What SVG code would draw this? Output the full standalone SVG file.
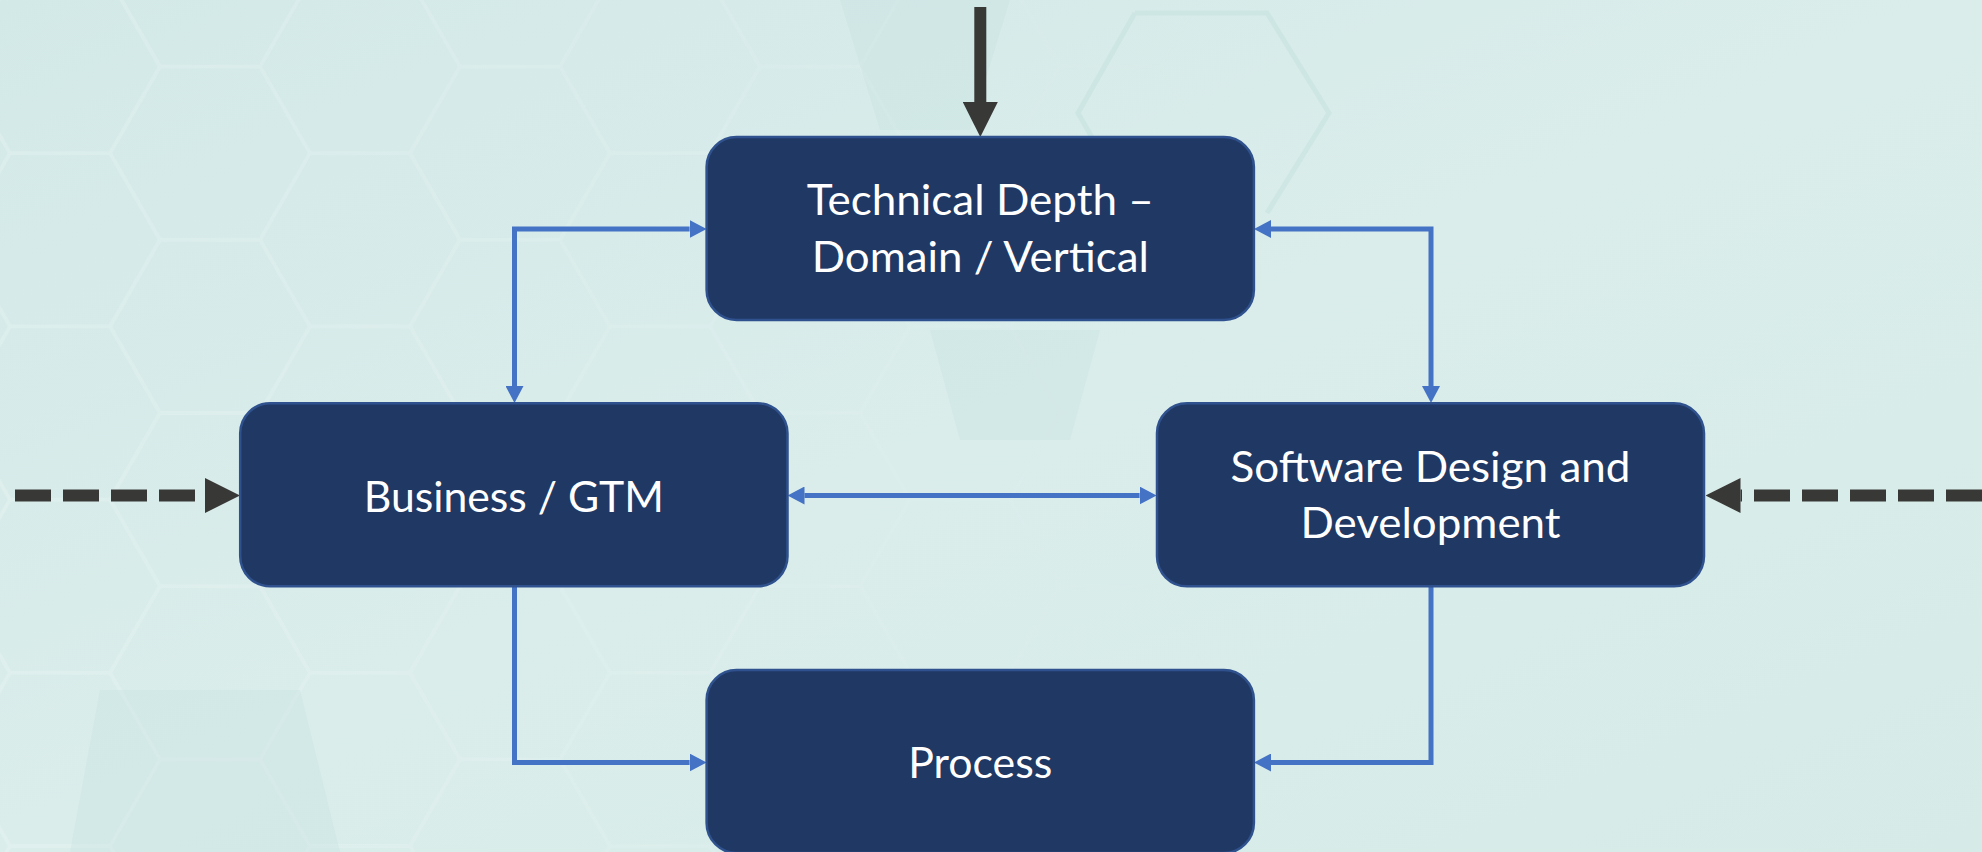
<svg xmlns="http://www.w3.org/2000/svg" width="1982" height="852" viewBox="0 0 1982 852">
  <style>
    .node rect { fill: #203864; stroke: #2F528F; stroke-width: 2.5; }
    .node text { fill: #FFFFFF; font-family: Lato, "Open Sans", "Liberation Sans", sans-serif; font-size: 42px; text-anchor: middle; }
    .blue { fill: none; stroke: #4472C4; stroke-width: 5; }
    .black { fill: none; stroke: #383836; stroke-width: 12; }
    .dashed { stroke-dasharray: 36 12; }
    .hexline { fill: none; stroke: #EAF5F3; stroke-width: 4; }
    .mol { fill: none; stroke: #C4E2DE; stroke-width: 5; opacity: 0.55; }
  </style>
  <defs>
    <linearGradient id="bg" x1="0" y1="0" x2="1" y2="1">
      <stop offset="0" stop-color="#D3E9E8"/>
      <stop offset="0.5" stop-color="#DAEDEB"/>
      <stop offset="1" stop-color="#D6EBE8"/>
    </linearGradient>
    <pattern id="hex" width="300" height="173.2" patternUnits="userSpaceOnUse" x="-40" y="-20">
      <path class="hexline" d="M0,86.6 L50,0 L150,0 L200,86.6 L150,173.2 L50,173.2 Z M200,86.6 H300"/>
    </pattern>
    <linearGradient id="fade" x1="0" y1="0" x2="1" y2="0">
      <stop offset="0" stop-color="#fff" stop-opacity="0.35"/>
      <stop offset="0.4" stop-color="#fff" stop-opacity="0.18"/>
      <stop offset="0.65" stop-color="#fff" stop-opacity="0"/>
    </linearGradient>
    <mask id="fadeMask">
      <rect width="1982" height="852" fill="url(#fade)"/>
    </mask>
    <marker id="blueHead" viewBox="0 0 17 18" refX="0" refY="9" markerWidth="17" markerHeight="18" markerUnits="userSpaceOnUse" orient="auto-start-reverse">
      <path d="M0,0 L17,9 L0,18 Z" fill="#4472C4"/>
    </marker>
    <marker id="blackHead" viewBox="0 0 35 35" refX="0" refY="17.5" markerWidth="35" markerHeight="35" markerUnits="userSpaceOnUse" orient="auto-start-reverse">
      <path d="M0,0 L35,17.5 L0,35 Z" fill="#383836"/>
    </marker>
  </defs>

  <!-- background -->
  <rect width="1982" height="852" fill="url(#bg)"/>
  <rect width="1982" height="852" fill="url(#hex)" mask="url(#fadeMask)"/>
  <g opacity="0.22" fill="#BCDADC">
    <path d="M840,0 L1010,0 L970,130 L880,130 Z"/>
    <path d="M100,690 L300,690 L340,852 L70,852 Z"/>
    <path d="M930,330 L1100,330 L1070,440 L960,440 Z"/>
  </g>
  <g class="mol">
    <path d="M1135,13 L1267,13 L1329,113 L1267,213 M1135,13 L1078,113 L1135,213"/>
  </g>

  <!-- connectors -->
  <g id="connectors">
    <path class="blue" d="M514.5,386 V229 H689.6" marker-start="url(#blueHead)" marker-end="url(#blueHead)"/>
    <path class="blue" d="M1271,229 H1431 V386" marker-start="url(#blueHead)" marker-end="url(#blueHead)"/>
    <path class="blue" d="M804.5,495.5 H1139.6" marker-start="url(#blueHead)" marker-end="url(#blueHead)"/>
    <path class="blue" d="M514.5,586.5 V762.5 H689.6" marker-end="url(#blueHead)"/>
    <path class="blue" d="M1431,586.5 V762.5 H1271" marker-end="url(#blueHead)"/>
    <path class="black" d="M980.3,7 V102" stroke-width="11.5" marker-end="url(#blackHead)"/>
    <path class="black dashed" d="M15,495.5 H205" marker-end="url(#blackHead)"/>
    <path class="black dashed" d="M1982,495.5 H1740.5" marker-end="url(#blackHead)"/>
  </g>

  <!-- nodes -->
  <g id="node-technical" class="node">
    <rect x="706.6" y="137" width="547.3" height="183" rx="30" ry="30"/>
    <text x="980.3" y="215" textLength="347" lengthAdjust="spacingAndGlyphs">Technical Depth –</text>
    <text x="980.3" y="272" textLength="337" lengthAdjust="spacingAndGlyphs">Domain / Vertical</text>
  </g>
  <g id="node-business" class="node">
    <rect x="240.2" y="403.3" width="547.3" height="183" rx="30" ry="30"/>
    <text x="513.8" y="511.7" textLength="300" lengthAdjust="spacingAndGlyphs">Business / GTM</text>
  </g>
  <g id="node-software" class="node">
    <rect x="1157" y="403.3" width="547" height="183" rx="30" ry="30"/>
    <text x="1430.5" y="481.7" textLength="400" lengthAdjust="spacingAndGlyphs">Software Design and</text>
    <text x="1430.5" y="538.3" textLength="260" lengthAdjust="spacingAndGlyphs">Development</text>
  </g>
  <g id="node-process" class="node">
    <rect x="706.6" y="670" width="547.3" height="183" rx="30" ry="30"/>
    <text x="980.3" y="778.3" textLength="144" lengthAdjust="spacingAndGlyphs">Process</text>
  </g>
</svg>
